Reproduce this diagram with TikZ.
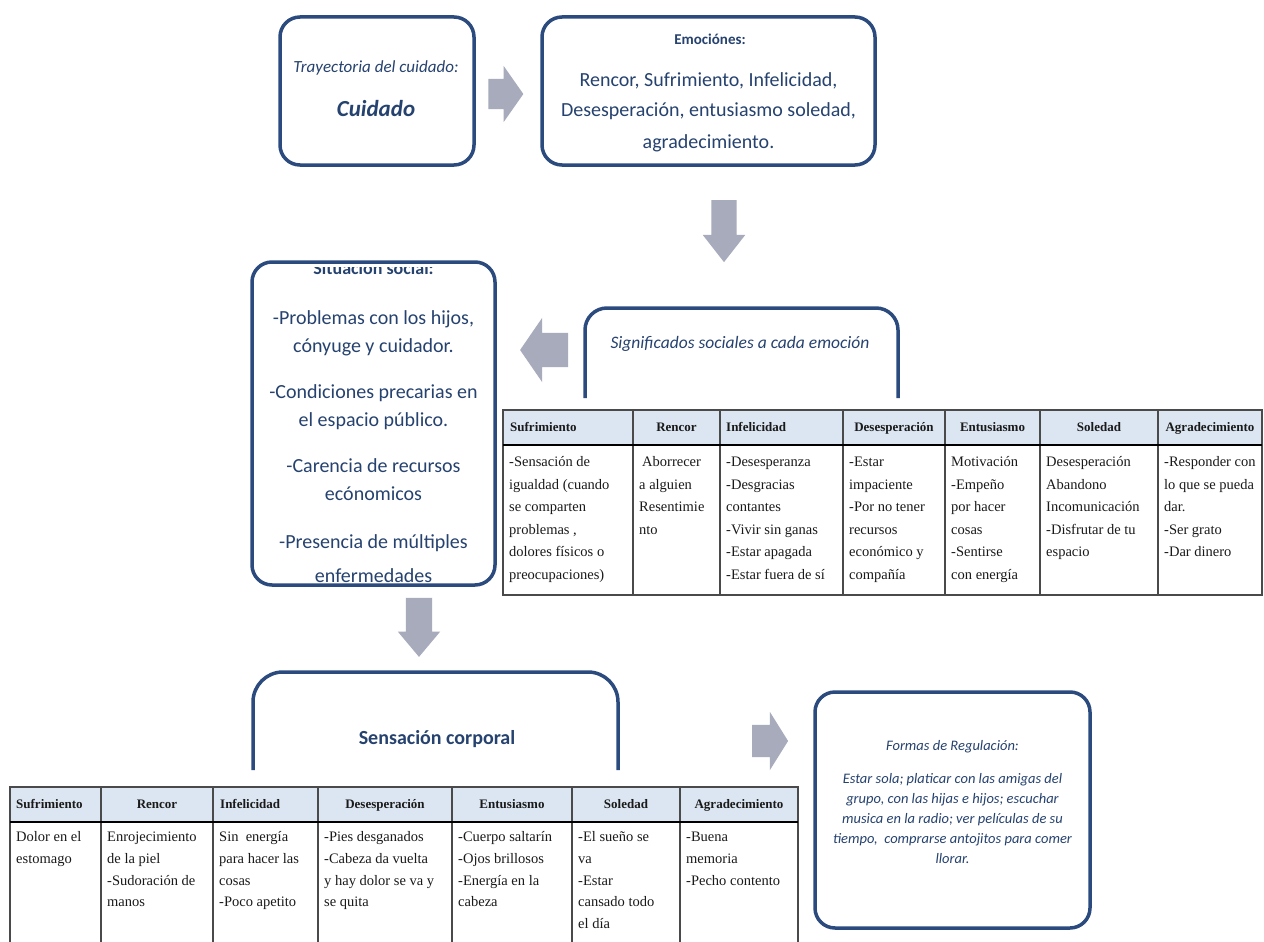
\documentclass[tikz,border=0pt]{standalone}
\usepackage{fontspec}
\setmainfont{Carlito}
\newfontfamily\tabfont{Liberation Serif}
\usetikzlibrary{shapes.arrows}
\definecolor{boxblue}{HTML}{2B4A7E}
\definecolor{boxtext}{HTML}{26426F}
\definecolor{arrowgray}{HTML}{A7ABBC}
\definecolor{hdrfill}{HTML}{DCE6F2}
\definecolor{gridgray}{HTML}{4A4A4A}
\definecolor{celltext}{HTML}{1A1A1A}

\begin{document}
\begin{tikzpicture}[x=1pt,y=-1pt,
  panel/.style={draw=boxblue, line width=3.5pt, rounded corners=20pt, inner sep=0pt},
  ptext/.style={text=boxtext, inner sep=0pt, anchor=base},
  blockarrow/.style={single arrow, fill=arrowgray, draw=none, inner xsep=0pt,
    single arrow head indent=0pt},
  hdr/.style={font=\tabfont\bfseries\fontsize{13}{15}\selectfont, text=celltext, inner sep=0pt},
  hdrl/.style={hdr, anchor=base west},
  hdrc/.style={hdr, anchor=base},
  cell/.style={font=\tabfont\fontsize{14.5}{22.5}\selectfont, text=celltext, inner sep=0pt,
    anchor=north west, align=left},
  cellb/.style={cell, font=\tabfont\fontsize{14.5}{21.8}\selectfont},
  grid/.style={draw=gridgray, line width=1.3pt},
  hdrline/.style={draw=black, line width=2.4pt},
  soc/.style={ptext, font=\fontsize{20}{24}\selectfont}
]
\clip (0,0) rectangle (1264,942);
\fill[white] (0,0) rectangle (1264,942);

% ---------- top row: trajectory and emotions ----------
\node[panel, minimum width=194pt, minimum height=148pt] (traj) at (377,91) {};
\node[ptext, font=\itshape\fontsize{17}{20}\selectfont] (trajA) at (376,73) {Trayectoria del cuidado:};
\node[ptext, font=\bfseries\itshape\fontsize{23}{26}\selectfont] (trajB) at (376,117) {Cuidado};

\node[panel, minimum width=333pt, minimum height=148pt] (emo) at (708.5,91) {};
\node[ptext, font=\bfseries\fontsize{15}{18}\selectfont] (emoT) at (710,45) {Emociónes:};
\node[ptext, font=\fontsize{20}{24}\selectfont] (emo1) at (708.5,86) {Rencor, Sufrimiento, Infelicidad,};
\node[ptext, font=\fontsize{20}{24}\selectfont] (emo2) at (708.5,117) {Desesperación, entusiasmo soledad,};
\node[ptext, font=\fontsize{20}{24}\selectfont] (emo3) at (708.5,148) {agradecimiento.};

\node[blockarrow, minimum height=35pt, inner ysep=15pt, single arrow head extend=13pt,
  single arrow tip angle=110] (arrA) at (500.5,94) {};
\node[blockarrow, rotate=-90, minimum height=62pt, inner ysep=12.5pt, single arrow head extend=8.5pt,
  single arrow tip angle=76] (arrB) at (724,223) {};

% ---------- social situation ----------
\begin{scope}
  \clip (252,267) rectangle (495,582);
  \node[ptext, font=\bfseries\fontsize{18}{21}\selectfont] (socT) at (373.5,274) {Situación social:};
  \node[soc] (soc1) at (373.5,324) {-Problemas con los hijos,};
  \node[soc] (soc2) at (373.5,352) {cónyuge y cuidador.};
  \node[soc] (soc3) at (373.5,398) {-Condiciones precarias en};
  \node[soc] (soc4) at (373.5,426) {el espacio público.};
  \node[soc] (soc5) at (373.5,472) {-Carencia de recursos};
  \node[soc] (soc6) at (373.5,500) {ecónomicos};
  \node[soc] (soc7) at (373.5,548) {-Presencia de múltiples};
  \node[soc] (soc8) at (373.5,582) {enfermedades};
\end{scope}
\node[panel, minimum width=243pt, minimum height=323pt] (social) at (373.5,423.5) {};

\node[blockarrow, rotate=180, minimum height=48pt, inner ysep=17pt, single arrow head extend=15pt,
  single arrow tip angle=111] (arrC) at (550,350) {};

% ---------- social meanings (open panel over the table) ----------
\coordinate (sigL) at (585,398);
\coordinate (sigR) at (898,398);
\draw[boxblue, line width=3.5pt, rounded corners=22pt] (sigL) |- (741.5,308) -| (sigR);
\node[ptext, font=\itshape\fontsize{17.5}{20}\selectfont] (sigT) at (740,348) {Significados sociales a cada emoción};

% ---------- table of social meanings ----------
\fill[hdrfill] (503,410) rectangle (1262,445);
\foreach \cx in {633,720,843,945,1040,1158}
  \draw[grid] (\cx,410) -- (\cx,595);
\draw[grid] (503,410) rectangle (1262,595);
\draw[hdrline] (503,445) -- (1262,445);

\node[hdrl] (h1a) at (510,431) {Sufrimiento};
\node[hdrc] (h1b) at (676.5,431) {Rencor};
\node[hdrl] (h1c) at (726,431) {Infelicidad};
\node[hdrc] (h1d) at (894,431) {Desesperación};
\node[hdrc] (h1e) at (992.5,431) {Entusiasmo};
\node[hdrc] (h1f) at (1099,431) {Soledad};
\node[hdrc] (h1g) at (1210,431) {Agradecimiento};

\node[cell] (b1a) at (509,451) {\strut-Sensación de\\igualdad (cuando\\se comparten\\problemas ,\\dolores físicos o\\preocupaciones)};
\node[cell] (b1b) at (639,451) {\strut\hspace{3pt}Aborrecer\\a alguien\\Resentimie\\nto};
\node[cell] (b1c) at (726,451) {\strut-Desesperanza\\-Desgracias\\contantes\\-Vivir sin ganas\\-Estar apagada\\-Estar fuera de sí};
\node[cell] (b1d) at (849,451) {\strut-Estar\\impaciente\\-Por no tener\\recursos\\económico y\\compañía};
\node[cell] (b1e) at (951,451) {\strut Motivación\\-Empeño\\por hacer\\cosas\\-Sentirse\\con energía};
\node[cell] (b1f) at (1046,451) {\strut Desesperación\\Abandono\\Incomunicación\\-Disfrutar de tu\\espacio};
\node[cell] (b1g) at (1164,451) {\strut-Responder con\\lo que se pueda\\dar.\\-Ser grato\\-Dar dinero};

% ---------- bodily sensation ----------
\node[blockarrow, rotate=-90, minimum height=59pt, inner ysep=13pt, single arrow head extend=8pt,
  single arrow tip angle=80] (arrD) at (419,619.5) {};

\coordinate (senL) at (253,770);
\coordinate (senR) at (618,770);
\draw[boxblue, line width=3.5pt, rounded corners=30pt] (senL) |- (435.5,672) -| (senR);
\node[ptext, font=\bfseries\fontsize{20}{24}\selectfont] (senT) at (437,744) {Sensación corporal};

\node[blockarrow, minimum height=36pt, inner ysep=16pt, single arrow head extend=13pt,
  single arrow tip angle=116] (arrE) at (765,741) {};

% ---------- regulation ----------
\node[panel, minimum width=275pt, minimum height=236pt] (reg) at (952.5,810) {};
\node[ptext, font=\itshape\fontsize{14.5}{17}\selectfont] (regT) at (952.5,750) {Formas de Regulación:};
\node[ptext, font=\itshape\fontsize{14.5}{17}\selectfont] (reg1) at (952.5,783) {Estar sola; platicar con las amigas del};
\node[ptext, font=\itshape\fontsize{14.5}{17}\selectfont] (reg2) at (952.5,803) {grupo, con las hijas e hijos; escuchar};
\node[ptext, font=\itshape\fontsize{14.5}{17}\selectfont] (reg3) at (952.5,823) {musica en la radio; ver películas de su};
\node[ptext, font=\itshape\fontsize{14.5}{17}\selectfont] (reg4) at (952.5,843) {tiempo,\ \ comprarse antojitos para comer};
\node[ptext, font=\itshape\fontsize{14.5}{17}\selectfont] (reg5) at (952.5,863) {llorar.};

% ---------- table of bodily sensations ----------
\fill[hdrfill] (10,787) rectangle (798,822);
\foreach \cx in {101,213,318,452,572,680}
  \draw[grid] (\cx,787) -- (\cx,950);
\draw[grid] (10,950) -- (10,787) -- (798,787) -- (798,950);
\draw[hdrline] (10,822) -- (798,822);

\node[hdrl] (h2a) at (16,808) {Sufrimiento};
\node[hdrc] (h2b) at (157,808) {Rencor};
\node[hdrl] (h2c) at (220,808) {Infelicidad};
\node[hdrc] (h2d) at (385,808) {Desesperación};
\node[hdrc] (h2e) at (512,808) {Entusiasmo};
\node[hdrc] (h2f) at (626,808) {Soledad};
\node[hdrc] (h2g) at (739,808) {Agradecimiento};

\node[cellb] (b2a) at (16,826) {\strut Dolor en el\\estomago};
\node[cellb] (b2b) at (107,826) {\strut Enrojecimiento\\de la piel\\-Sudoración de\\manos};
\node[cellb] (b2c) at (219,826) {\strut Sin\ \ energía\\para hacer las\\cosas\\-Poco apetito};
\node[cellb] (b2d) at (324,826) {\strut-Pies desganados\\-Cabeza da vuelta\\y hay dolor se va y\\se quita};
\node[cellb] (b2e) at (458,826) {\strut-Cuerpo saltarín\\-Ojos brillosos\\-Energía en la\\cabeza};
\node[cellb] (b2f) at (578,826) {\strut-El sueño se\\va\\-Estar\\cansado todo\\el día};
\node[cellb] (b2g) at (686,826) {\strut-Buena\\memoria\\-Pecho contento};
\end{tikzpicture}
\end{document}
